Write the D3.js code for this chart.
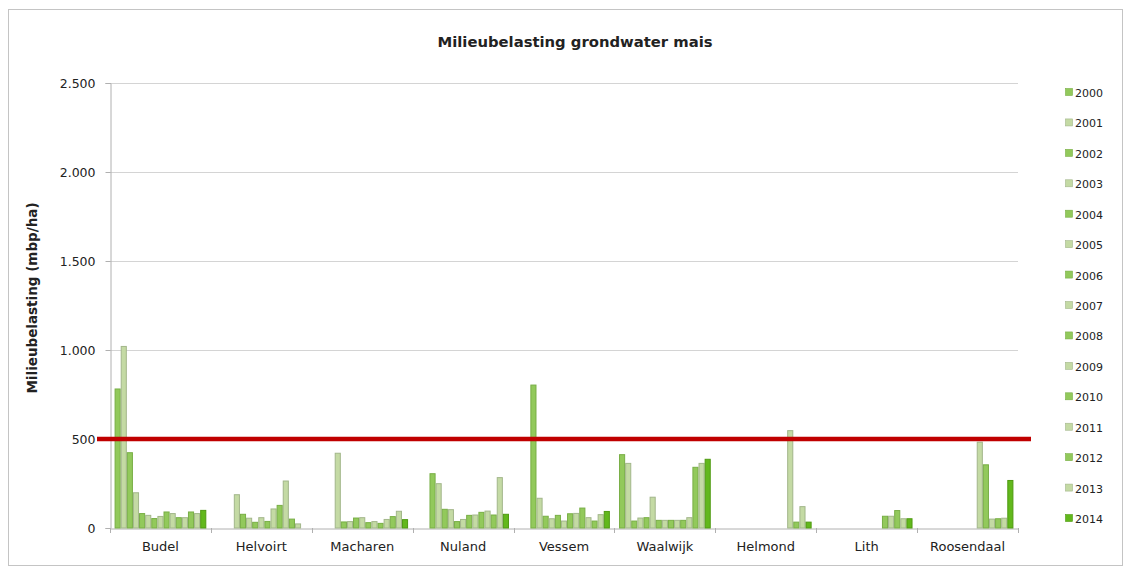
<!DOCTYPE html>
<html>
<head>
<meta charset="utf-8">
<script src="https://cdn.jsdelivr.net/npm/d3@7"></script>
<style>
  html, body { margin: 0; padding: 0; background: #fff; }
  svg { display: block; }
  text { font-family: "DejaVu Sans", "Open Sans", sans-serif; fill: #222; }
</style>
</head>
<body>
<svg id="chart" width="1131" height="572"></svg>
<script>
// Locations and years
const categories = ["Budel", "Helvoirt", "Macharen", "Nuland", "Vessem", "Waalwijk", "Helmond", "Lith", "Roosendaal"];
const years = ["2000","2001","2002","2003","2004","2005","2006","2007","2008","2009","2010","2011","2012","2013","2014"];

// Milieubelasting (mbp/ha) per year 2000..2014, null = no measurement
const budel      = [781, 1020, 423, 198, 81, 71, 53, 65, 90, 81, 58, 58, 90, 81, 99];
const helvoirt   = [null, null, null, 187, 77, 55, 32, 58, 37, 107, 127, 264, 50, 23, null];
const macharen   = [null, null, null, 420, 34, 36, 56, 58, 30, 36, 26, 48, 64, 94, 47];
const nuland     = [null, null, 305, 249, 105, 103, 36, 48, 71, 73, 88, 95, 73, 283, 77];
const vessem     = [null, null, 803, 167, 66, 52, 71, 39, 80, 82, 112, 58, 39, 75, 93];
const waalwijk   = [412, 363, 39, 56, 58, 173, 43, 43, 43, 43, 43, 58, 341, 363, 386];
const helmond    = [null, null, null, null, null, null, null, null, null, null, null, 547, 33, 120, 33];
const lith       = [null, null, null, null, null, null, null, null, null, null, 66, 66, 98, 52, 52];
const roosendaal = [null, null, null, null, null, null, null, null, null, 482, 355, 50, 52, 55, 267];
const seriesByCategory = [budel, helvoirt, macharen, nuland, vessem, waalwijk, helmond, lith, roosendaal];

const yTicks = [0, 500, 1000, 1500, 2000, 2500];
const norm = 500; // norm line

const svg = d3.select("#chart");
const FONT = "'DejaVu Sans', 'Open Sans', sans-serif";

// chart frame
svg.append("rect").attr("x", 8.5).attr("y", 9.5).attr("width", 1114).attr("height", 556)
  .attr("fill", "#fff").attr("stroke", "#c4c4c4").attr("stroke-width", 1);

const plot = { left: 110, right: 1018, top: 83, bottom: 528 };

const x0 = d3.scaleBand().domain(categories).range([plot.left, plot.right]).paddingInner(0).paddingOuter(0);
const x1 = d3.scaleBand().domain(years).range([0, x0.bandwidth()]).paddingInner(0).paddingOuter(0.75);
const y = d3.scaleLinear().domain([0, 2500]).range([plot.bottom, plot.top]);

const nl = d3.formatLocale({ decimal: ",", thousands: ".", grouping: [3], currency: ["", ""] });
const fmt = nl.format(",.0f");

// gridlines
svg.append("g").selectAll("line").data(yTicks.filter(d => d > 0)).join("line")
  .attr("x1", plot.left).attr("x2", plot.right)
  .attr("y1", d => Math.round(y(d)) + 0.5).attr("y2", d => Math.round(y(d)) + 0.5)
  .attr("stroke", "#d4d4d4").attr("stroke-width", 1);

// y axis
const yAxis = svg.append("g").attr("transform", `translate(${plot.left + 0.5},0)`)
  .call(d3.axisLeft(y).tickValues(yTicks).tickFormat(fmt).tickSize(5).tickPadding(10));
yAxis.select(".domain").attr("stroke", "#b0b0b0");
yAxis.selectAll(".tick line").attr("stroke", "#b0b0b0");
yAxis.selectAll("text").attr("font-size", 12.5).attr("fill", "#222").attr("font-family", FONT);

// x axis
const xAxis = svg.append("g").attr("transform", `translate(0,${plot.bottom + 0.5})`)
  .call(d3.axisBottom(x0).tickSize(0).tickPadding(13));
xAxis.select(".domain").attr("stroke", "#b0b0b0");
xAxis.selectAll("text").attr("font-size", 13).attr("fill", "#222").attr("font-family", FONT);
// category boundary ticks
svg.append("g").selectAll("line").data(d3.range(categories.length + 1)).join("line")
  .attr("x1", i => Math.round(plot.left + i * x0.bandwidth()) + 0.5)
  .attr("x2", i => Math.round(plot.left + i * x0.bandwidth()) + 0.5)
  .attr("y1", plot.bottom).attr("y2", plot.bottom + 5)
  .attr("stroke", "#b0b0b0");

// colours: even years mid green, odd years pale green, last year bright
function fillOf(yi) {
  if (years[yi] === "2014") return "#62b81c";
  return yi % 2 === 0 ? "#92c95b" : "#c4daa4";
}
function strokeOf(yi) {
  if (years[yi] === "2014") return "#4f9a12";
  return yi % 2 === 0 ? "#78ae45" : "#a2b68a";
}

// bars
const bars = [];
categories.forEach((c, ci) => {
  seriesByCategory[ci].forEach((v, yi) => {
    if (v != null) bars.push({ c, year: years[yi], yi, v });
  });
});
svg.append("g").selectAll("rect").data(bars).join("rect")
  .attr("x", d => x0(d.c) + x1(d.year) + 0.5)
  .attr("y", d => y(d.v))
  .attr("width", x1.bandwidth() - 1)
  .attr("height", d => y(0) - y(d.v))
  .attr("fill", d => fillOf(d.yi))
  .attr("stroke", d => strokeOf(d.yi))
  .attr("stroke-width", 1);

// norm line at 500
svg.append("line")
  .attr("x1", 97).attr("x2", 1031)
  .attr("y1", y(norm)).attr("y2", y(norm))
  .attr("stroke", "#c00000").attr("stroke-width", 4.5);

// title
svg.append("text").attr("x", 575).attr("y", 47).attr("text-anchor", "middle")
  .attr("font-size", 14.8).attr("font-weight", "bold")
  .text("Milieubelasting grondwater mais");

// y axis title
svg.append("text").attr("transform", `translate(37,298) rotate(-90)`)
  .attr("text-anchor", "middle").attr("font-size", 13.5).attr("font-weight", "bold")
  .text("Milieubelasting (mbp/ha)");

// legend
const leg = svg.append("g").selectAll("g").data(years).join("g")
  .attr("transform", (d, i) => `translate(1065,${93 + i * 30.43})`);
leg.append("rect").attr("x", 0.5).attr("y", -4.5).attr("width", 7).attr("height", 7)
  .attr("fill", (d, i) => fillOf(i)).attr("stroke", (d, i) => strokeOf(i)).attr("stroke-width", 0.6);
leg.append("text").attr("x", 10).attr("y", 4).attr("font-size", 11).text(d => d);
</script>
</body>
</html>
